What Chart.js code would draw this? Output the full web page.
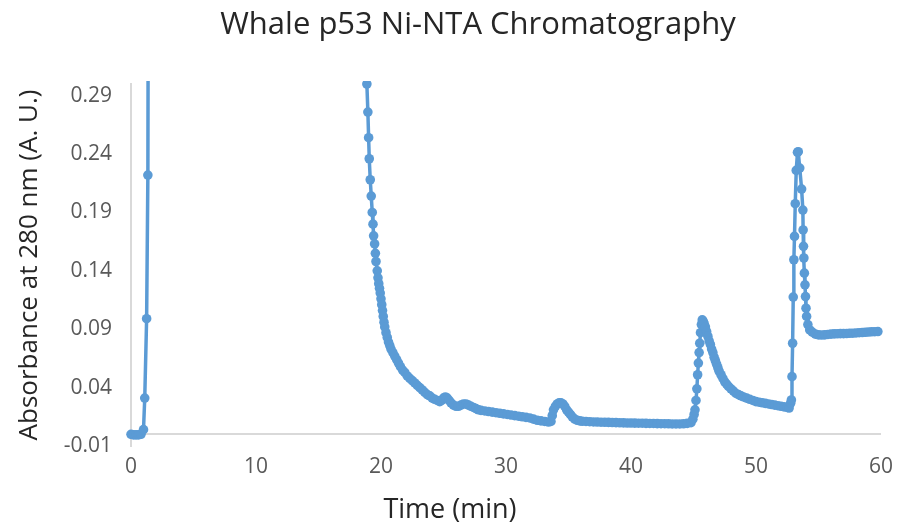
<!DOCTYPE html>
<html>
<head>
<meta charset="utf-8">
<title>Whale p53 Ni-NTA Chromatography</title>
<script src="https://cdn.jsdelivr.net/npm/chart.js@4.4.1/dist/chart.umd.min.js"></script>
<style>
  html, body { margin: 0; padding: 0; background: #ffffff; }
</style>
</head>
<body>
<canvas id="chromatogram" width="901" height="529"></canvas>
<script>
const chartTitle = "Whale p53 Ni-NTA Chromatography";
const xTitle = "Time (min)";
const yTitle = "Absorbance at 280 nm (A. U.)";

// axis ticks
const timeTicks = [0, 10, 20, 30, 40, 50, 60];
const absTicks = [-0.01, 0.04, 0.09, 0.14, 0.19, 0.24, 0.29];

// [time (min), absorbance]
const loadSpike = [
  [0, 0.0], [0.2, -0.0005], [0.4, -0.0005], [0.6, -0.0005], [0.8, 0.0],
  [1.0, 0.004], [1.1, 0.031], [1.25, 0.099], [1.35, 0.222],
];
// detector off the top of the plot (not visible)
const flowThrough = [[1.42, 0.6], [18.8, 0.36]];
const washDecay = [
  [18.87, 0.300], [18.95, 0.276], [19.01, 0.254], [19.06, 0.236], [19.14, 0.218],
  [19.22, 0.204], [19.30, 0.190], [19.36, 0.180], [19.41, 0.170], [19.49, 0.163],
  [19.55, 0.155], [19.60, 0.148], [19.70, 0.140], [19.76, 0.134], [19.82, 0.129],
  [19.88, 0.125], [19.94, 0.121], [20.00, 0.116], [20.06, 0.111], [20.12, 0.106],
  [20.18, 0.101], [20.24, 0.096], [20.30, 0.092], [20.40, 0.087], [20.50, 0.083],
  [20.60, 0.079], [20.70, 0.076], [20.80, 0.073], [20.95, 0.070], [21.10, 0.067],
  [21.25, 0.064], [21.40, 0.061], [21.55, 0.058], [21.73, 0.055], [21.90, 0.053],
  [22.10, 0.050], [22.30, 0.048], [22.50, 0.046], [22.70, 0.044], [22.90, 0.042],
  [23.10, 0.040], [23.30, 0.038], [23.50, 0.036], [23.70, 0.034], [23.90, 0.033],
  [24.10, 0.031], [24.30, 0.030], [24.50, 0.029], [24.70, 0.028], [24.85, 0.029],
  [25.00, 0.031], [25.15, 0.032], [25.30, 0.031], [25.45, 0.029], [25.60, 0.027],
  [25.80, 0.025], [26.00, 0.024], [26.20, 0.024], [26.40, 0.025], [26.60, 0.026],
  [26.80, 0.026], [27.00, 0.025], [27.20, 0.024], [27.40, 0.023], [27.60, 0.022],
  [27.80, 0.021], [28.00, 0.0205], [28.30, 0.020], [28.60, 0.0195], [28.90, 0.019],
  [29.20, 0.0185], [29.50, 0.018], [29.80, 0.0175], [30.10, 0.017], [30.40, 0.0165],
  [30.70, 0.016], [31.00, 0.0155], [31.30, 0.015], [31.60, 0.0145], [31.90, 0.014],
  [32.20, 0.013], [32.50, 0.012], [32.80, 0.0115], [33.10, 0.011], [33.40, 0.0105],
  [33.60, 0.011], [33.70, 0.016], [33.80, 0.021], [33.95, 0.024], [34.10, 0.026],
  [34.25, 0.027], [34.40, 0.027], [34.55, 0.026], [34.70, 0.024], [34.85, 0.021],
  [35.00, 0.019], [35.15, 0.017], [35.30, 0.015], [35.50, 0.013], [35.70, 0.012],
  [35.90, 0.0115], [36.10, 0.0112], [36.40, 0.0110], [36.70, 0.0108], [37.00, 0.0106],
  [37.30, 0.0105], [37.60, 0.0104], [37.90, 0.0103], [38.20, 0.0102], [38.50, 0.0101],
  [38.80, 0.0100], [39.10, 0.0099], [39.40, 0.0098], [39.70, 0.0097], [40.00, 0.0097],
  [40.30, 0.0096], [40.60, 0.0095], [40.90, 0.0095], [41.20, 0.0094], [41.50, 0.0093],
  [41.80, 0.0093], [42.10, 0.0092], [42.40, 0.0091], [42.70, 0.0091], [43.00, 0.0090],
  [43.30, 0.0089], [43.60, 0.0089], [43.90, 0.0089], [44.20, 0.0090], [44.50, 0.0094],
];
const elutionPeak1 = [
  [44.80, 0.010], [44.95, 0.013], [45.05, 0.017], [45.12, 0.021], [45.20, 0.029],
  [45.27, 0.039], [45.33, 0.051], [45.39, 0.061], [45.45, 0.070], [45.50, 0.078],
  [45.56, 0.087], [45.63, 0.094], [45.70, 0.098], [45.77, 0.097], [45.85, 0.095],
  [45.95, 0.092], [46.05, 0.088], [46.15, 0.084], [46.25, 0.080], [46.35, 0.077],
  [46.45, 0.073], [46.55, 0.070], [46.65, 0.066], [46.75, 0.063], [46.85, 0.060],
  [46.95, 0.057], [47.05, 0.054], [47.20, 0.051], [47.35, 0.048], [47.50, 0.045],
  [47.65, 0.043], [47.80, 0.041], [48.00, 0.039], [48.20, 0.037], [48.40, 0.035],
  [48.60, 0.034], [48.80, 0.033], [49.00, 0.032], [49.25, 0.031], [49.50, 0.030],
  [49.75, 0.029], [50.00, 0.028], [50.25, 0.0275], [50.50, 0.027], [50.75, 0.0265],
  [51.00, 0.026], [51.25, 0.0255], [51.50, 0.025], [51.75, 0.0245], [52.00, 0.024],
  [52.25, 0.0235], [52.50, 0.023], [52.65, 0.0225],
];
const elutionPeak2 = [
  [52.77, 0.0266], [52.83, 0.0294], [52.88, 0.0494], [52.93, 0.078], [52.98, 0.1175],
  [53.03, 0.1495], [53.08, 0.1695], [53.14, 0.1975], [53.22, 0.226], [53.32, 0.2415],
  [53.38, 0.242], [53.50, 0.228], [53.65, 0.210], [53.75, 0.192], [53.77, 0.175],
  [53.80, 0.161], [53.83, 0.151], [53.87, 0.138], [53.92, 0.128], [53.96, 0.118],
  [54.00, 0.108], [54.05, 0.101], [54.15, 0.094], [54.30, 0.0894], [54.50, 0.0875],
  [54.75, 0.0858], [55.00, 0.0852], [55.25, 0.0850], [55.50, 0.0852], [55.75, 0.0855],
  [56.00, 0.0858], [56.25, 0.0860], [56.50, 0.0861], [56.75, 0.0862], [57.00, 0.0862],
  [57.25, 0.0863], [57.50, 0.0865], [57.75, 0.0866], [58.00, 0.0868], [58.25, 0.0870],
  [58.50, 0.0872], [58.75, 0.0874], [59.00, 0.0876], [59.25, 0.0878], [59.50, 0.0879],
  [59.75, 0.0880],
];

const lineBlue = "#5B9BD5";
const axisGray = "#d9d9d9";
const labelGray = "#595959";
const titleColor = "#262626";
const fontFamily = "'Open Sans', 'Noto Sans', sans-serif";

Chart.defaults.font.family = fontFamily;

const trace = [...loadSpike, ...flowThrough, ...washDecay, ...elutionPeak1, ...elutionPeak2]
  .map(([x, y]) => ({ x, y }));

// chart title and x title sit off-centre in the original, so draw them here
const freeTitles = {
  id: "freeTitles",
  afterDraw: (chart) => {
    const c = chart.ctx;
    c.save();
    c.fillStyle = titleColor;
    c.textAlign = "center";
    c.textBaseline = "middle";
    c.font = "31px " + fontFamily;
    c.fillText(chartTitle, 478, 25);
    c.font = "27px " + fontFamily;
    c.fillText(xTitle, 450, 510);
    c.restore();
  },
};

const ctx = document.getElementById("chromatogram").getContext("2d");

new Chart(ctx, {
  type: "line",
  data: {
    datasets: [
      {
        label: "A280",
        data: trace,
        borderColor: lineBlue,
        backgroundColor: lineBlue,
        pointBackgroundColor: lineBlue,
        pointBorderColor: lineBlue,
        borderWidth: 3.5,
        pointRadius: 4.8,
        pointBorderWidth: 0,
        tension: 0,
        clip: { left: 6, top: 3, right: 6, bottom: 6 },
      },
    ],
  },
  options: {
    responsive: false,
    animation: false,
    devicePixelRatio: 1,
    layout: {
      padding: { left: 0, right: 19, top: 84, bottom: 0 },
    },
    plugins: {
      legend: { display: false },
      tooltip: { enabled: false },
      title: { display: false },
    },
    scales: {
      x: {
        type: "linear",
        min: 0,
        max: 60,
        afterBuildTicks: (scale) => {
          scale.ticks = timeTicks.map((value) => ({ value }));
        },
        afterFit: (scale) => {
          scale.height = 83;
        },
        grid: { display: false, drawTicks: false },
        border: { display: false },
        ticks: {
          color: labelGray,
          font: { size: 21 },
          padding: 8,
          maxRotation: 0,
        },
        title: { display: false, text: xTitle },
      },
      y: {
        min: -0.01,
        max: 0.3,
        // the zero line stands in for the horizontal axis
        afterBuildTicks: (scale) => {
          scale.ticks = [...absTicks, 0]
            .sort((a, b) => a - b)
            .map((value) => ({ value }));
        },
        afterFit: (scale) => {
          scale.width = 131;
        },
        grid: {
          drawTicks: false,
          lineWidth: 2,
          color: (c) => (c.tick && c.tick.value === 0 ? axisGray : "transparent"),
        },
        border: { display: true, color: axisGray, width: 2 },
        ticks: {
          color: labelGray,
          font: { size: 21 },
          padding: 19,
          callback: (value) => (value === 0 ? "" : value.toFixed(2)),
        },
        title: {
          display: true,
          text: yTitle,
          color: titleColor,
          font: { size: 26 },
          padding: { top: 14, bottom: 0 },
        },
      },
    },
  },
  plugins: [freeTitles],
});
</script>
</body>
</html>
